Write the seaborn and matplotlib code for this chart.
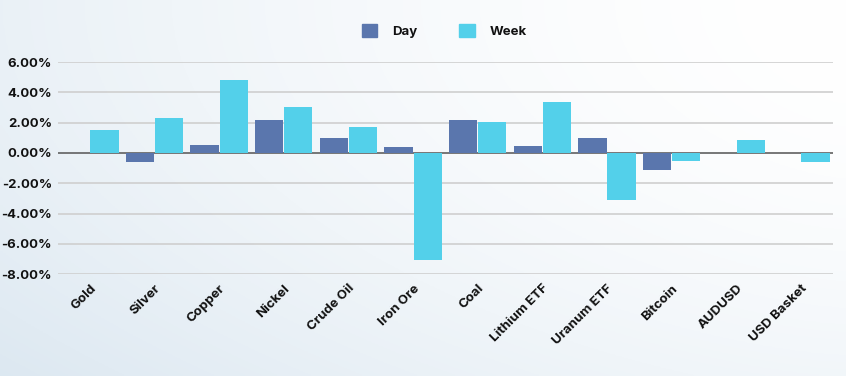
import numpy as np
import pandas as pd
import matplotlib
matplotlib.use("Agg")
import matplotlib.pyplot as plt
import seaborn as sns
from matplotlib.patches import Patch

categories = ["Gold", "Silver", "Copper", "Nickel", "Crude Oil", "Iron Ore", "Coal",
              "Lithium ETF", "Uranum ETF", "Bitcoin", "AUDUSD", "USD Basket"]
day = [0.0, -0.6, 0.53, 2.2, 0.96, 0.36, 2.2, 0.43, 1.0, -1.15, 0.0, 0.0]
week = [1.52, 2.3, 4.8, 3.0, 1.72, -7.05, 2.05, 3.35, -3.1, -0.55, 0.86, -0.62]
yticks = [6, 4, 2, 0, -2, -4, -6, -8]

df = pd.DataFrame({"asset": categories * 2,
                   "value": day + week,
                   "period": ["Day"] * len(categories) + ["Week"] * len(categories)})

sns.set_theme(style="white")
plt.rcParams["font.family"] = ["Inter", "DejaVu Sans"]
plt.rcParams["text.color"] = "#111111"
plt.rcParams["xtick.color"] = "#111111"
plt.rcParams["ytick.color"] = "#111111"

fig = plt.figure(figsize=(8.46, 3.76), dpi=100)

# soft background gradient
bg = fig.add_axes([0, 0, 1, 1], zorder=-10)
xx, yy = np.meshgrid(np.linspace(0, 1, 300), np.linspace(0, 1, 150))
shade = np.clip(0.55 * (1 - xx) ** 1.5 + 0.35 * yy ** 2, 0, 1)
c0 = np.array([1.0, 1.0, 1.0])
c1 = np.array([0.85, 0.90, 0.94])
img = c0 + (c1 - c0) * shade[..., None]
bg.imshow(img, aspect="auto", extent=[0, 1, 0, 1])
bg.axis("off")

ax = fig.add_axes([0.068, 0.271, 0.917, 0.564])
ax.patch.set_alpha(0)
palette = {"Day": "#5a76ad", "Week": "#53d0ea"}
sns.barplot(data=df, x="asset", y="value", hue="period", palette=palette,
            width=0.9, gap=0.03, saturation=1, legend=False, ax=ax, zorder=3,
            linewidth=0, edgecolor="none")

ax.set_ylim(-8, 6)
ax.set_yticks(yticks)
ax.set_yticklabels([f"{v:.2f}%" for v in yticks], fontsize=9.5, fontweight="bold")
for v in yticks:
    ax.axhline(v, color="#606060" if v == 0 else "#cfcfcf", lw=1.2, zorder=1)
ax.set_xlim(-0.5, len(categories) - 0.5)
ax.set_xticks(range(len(categories)))
ax.set_xticklabels(categories, rotation=45, ha="right", rotation_mode="anchor",
                   fontsize=9.5, fontweight="bold")
ax.tick_params(axis="both", length=0, pad=4)
ax.tick_params(axis="x", pad=6)
ax.set_xlabel("")
ax.set_ylabel("")
sns.despine(ax=ax, left=True, bottom=True)

handles = [Patch(color=palette["Day"], label="Day"), Patch(color=palette["Week"], label="Week")]
fig.legend(handles=handles, loc="center", bbox_to_anchor=(0.525, 0.918), ncol=2, frameon=False,
           prop={"weight": "bold", "size": 9.5}, handlelength=1.2, handleheight=1.2,
           columnspacing=3.2, handletextpad=1.1)

fig.savefig("out.png", dpi=100)
